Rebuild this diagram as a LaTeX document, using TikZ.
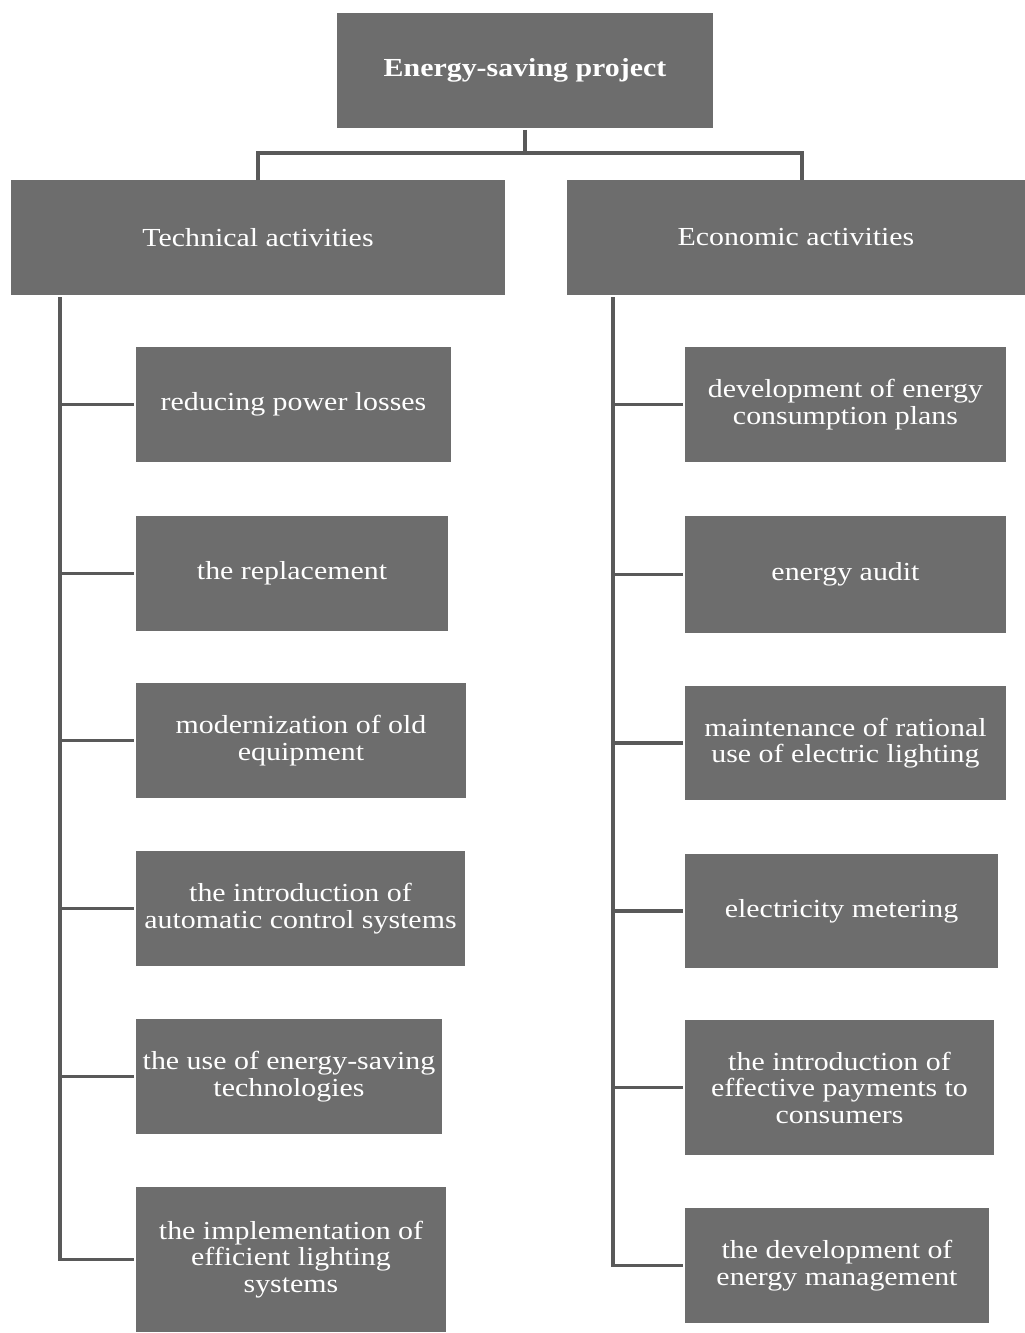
\documentclass[tikz,border=0pt]{standalone}
\usepackage{fontspec}
\setmainfont[FakeStretch=1.15]{Liberation Serif}
\definecolor{boxgrey}{HTML}{6D6D6D}
\definecolor{linegrey}{HTML}{595959}
\tikzset{every picture/.style={line width=3.5pt}}
\tikzset{plan box/.style={rectangle, fill=boxgrey, text=white, inner sep=0pt, align=center,
  font=\fontsize{26}{26.5}\selectfont}}
\tikzset{plan line/.style={draw=linegrey}}
\newcommand{\twig}[1]{(#1.west -| spine) -- (#1.west)}

\begin{document}
\begin{tikzpicture}[x=1pt, y=-1pt]
        \useasboundingbox (0,0) rectangle (1025,1333);
        % top level
        \node[plan box, minimum width=376pt, minimum height=115pt, font=\bfseries\fontsize{26}{26.5}\selectfont] (top) at (525,70.5) {Energy-saving project};
        \node[plan box, minimum width=494pt, minimum height=115pt] (tech) at (258,237.5) {Technical activities};
        \node[plan box, minimum width=458pt, minimum height=115pt] (econ) at (796,237.5) {Economic activities};
        \coordinate (fork) at (525,153);
        \draw[plan line] (top.south) -- (fork);
        \draw[plan line] ([yshift=-2pt]tech.north) |- (fork) -| ([xshift=6pt,yshift=-2pt]econ.north);
        % technical side
        \node[plan box, minimum width=315pt, minimum height=115pt] (t1) at (293.5,404.5) {reducing power losses};
        \node[plan box, minimum width=312pt, minimum height=115pt] (t2) at (292,573.5) {the replacement};
        \node[plan box, minimum width=330pt, minimum height=115pt] (t3) at (301,740.5) {modernization of old\\equipment};
        \node[plan box, minimum width=329pt, minimum height=115pt] (t4) at (300.5,908.5) {the introduction of\\automatic control systems};
        \node[plan box, minimum width=306pt, minimum height=115pt] (t5) at (289,1076.5) {the use of energy-saving\\technologies};
        \node[plan box, minimum width=310pt, minimum height=145pt] (t6) at (291,1259.5) {the implementation of\\efficient lighting\\systems};
        \begin{scope}
            \coordinate (spine) at (60,297);
            \draw[plan line] (spine) |- (t6.west);
            \foreach \n in {t1,t2,t3,t4,t5}
                \draw[plan line] \twig{\n};
        \end{scope}
        % economic side
        \node[plan box, minimum width=321pt, minimum height=115pt] (e1) at (845.5,404.5) {development of energy\\consumption plans};
        \node[plan box, minimum width=321pt, minimum height=117pt] (e2) at (845.5,574.5) {energy audit};
        \node[plan box, minimum width=321pt, minimum height=114pt] (e3) at (845.5,743) {maintenance of rational\\use of electric lighting};
        \node[plan box, minimum width=313pt, minimum height=114pt] (e4) at (841.5,911) {electricity metering};
        \node[plan box, minimum width=309pt, minimum height=135pt] (e5) at (839.5,1087.5) {the introduction of\\effective payments to\\consumers};
        \node[plan box, minimum width=304pt, minimum height=115pt] (e6) at (837,1265.5) {the development of\\energy management};
        \begin{scope}
            \coordinate (spine) at (613,297);
            \draw[plan line] (spine) |- (e6.west);
            \foreach \n in {e1,e2,e3,e4,e5}
                \draw[plan line] \twig{\n};
        \end{scope}
    \end{tikzpicture}
\end{document}
